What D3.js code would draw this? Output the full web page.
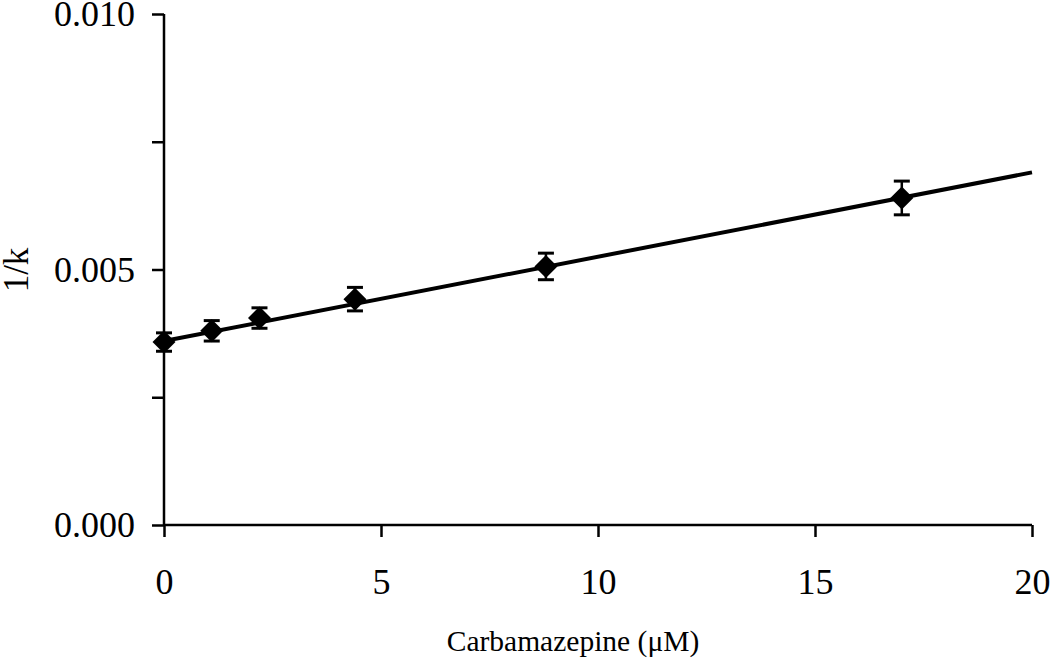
<!DOCTYPE html>
<html>
<head>
<meta charset="utf-8">
<script src="https://cdn.jsdelivr.net/npm/d3@7"></script>
<style>
body{margin:0;background:#fff;}
text{font-family:"Liberation Serif","Times New Roman",serif;fill:#000;}
</style>
</head>
<body>
<div id="chart"></div>
<script>
var width = 1050;
var height = 662;

// measured points
var conc = [0, 1.1, 2.2, 4.4, 8.8, 17];
var invK = [0.00358, 0.00380, 0.00405, 0.00442, 0.00506, 0.00640];
var errs = [0.00018, 0.00020, 0.00020, 0.00023, 0.00026, 0.00033];

// linear fit
var fitX = [0, 20];
var fitY = [0.00360, 0.00690];

var xTicks = [0, 5, 10, 15, 20];
var yTicks = [0, 0.0025, 0.005, 0.0075, 0.010];
var yLabels = {"0": "0.000", "0.005": "0.005", "0.01": "0.010"};

var svg = d3.select("#chart").append("svg").attr("width", width).attr("height", height);

var x = d3.scaleLinear().domain([0, 20]).range([164, 1032]);
var y = d3.scaleLinear().domain([0, 0.010]).range([525, 14]);

var xAxis = d3.axisBottom(x).tickValues(xTicks).tickSize(12).tickSizeOuter(0).tickPadding(31)
	.tickFormat(d3.format("d"));
var yAxis = d3.axisLeft(y).tickValues(yTicks).tickSize(12).tickSizeOuter(0).tickPadding(17)
	.tickFormat(function(d){ return yLabels[String(d)] || ""; });

var gx = svg.append("g").attr("transform", "translate(0,525)").call(xAxis);
var gy = svg.append("g").attr("transform", "translate(164,0)").call(yAxis);

[gx, gy].forEach(function(g){
	g.select(".domain").attr("stroke", "#000").attr("stroke-width", 2.5);
	g.selectAll(".tick line").attr("stroke", "#000").attr("stroke-width", 2.5);
	g.selectAll(".tick text").attr("font-size", 36).attr("font-family", "Liberation Serif");
});
gx.select(".domain").attr("d", "M164,0H1032");
gy.select(".domain").attr("d", "M0,525V14");

// fit line
var line = d3.line().x(function(d){ return x(d[0]); }).y(function(d){ return y(d[1]); });
svg.append("path")
	.datum(d3.zip(fitX, fitY))
	.attr("d", line)
	.attr("fill", "none")
	.attr("stroke", "#000")
	.attr("stroke-width", 4);

var pts = conc.map(function(c, i){ return {x: c, y: invK[i], e: errs[i]}; });

// error bars
var eb = svg.append("g").selectAll("g").data(pts).enter().append("g");
eb.append("line")
	.attr("x1", function(d){ return x(d.x); }).attr("x2", function(d){ return x(d.x); })
	.attr("y1", function(d){ return y(d.y + d.e); }).attr("y2", function(d){ return y(d.y - d.e); })
	.attr("stroke", "#000").attr("stroke-width", 2.5);
[1, -1].forEach(function(s){
	eb.append("line")
		.attr("x1", function(d){ return x(d.x) - 8; }).attr("x2", function(d){ return x(d.x) + 8; })
		.attr("y1", function(d){ return y(d.y + s * d.e); }).attr("y2", function(d){ return y(d.y + s * d.e); })
		.attr("stroke", "#000").attr("stroke-width", 3);
});

// diamonds
var r = 11.5;
svg.append("g").selectAll("path").data(pts).enter().append("path")
	.attr("d", function(d){
		var cx = x(d.x), cy = y(d.y);
		return "M" + cx + "," + (cy - r) + "L" + (cx + r) + "," + cy + "L" + cx + "," + (cy + r) + "L" + (cx - r) + "," + cy + "Z";
	})
	.attr("fill", "#000");

// titles
svg.append("text")
	.attr("x", 573).attr("y", 651)
	.attr("text-anchor", "middle")
	.attr("font-size", 29.5)
	.text("Carbamazepine (\u03BCM)");

svg.append("text")
	.attr("transform", "translate(28,270) rotate(-90)")
	.attr("text-anchor", "middle")
	.attr("font-size", 35)
	.text("1/k");
</script>
</body>
</html>
